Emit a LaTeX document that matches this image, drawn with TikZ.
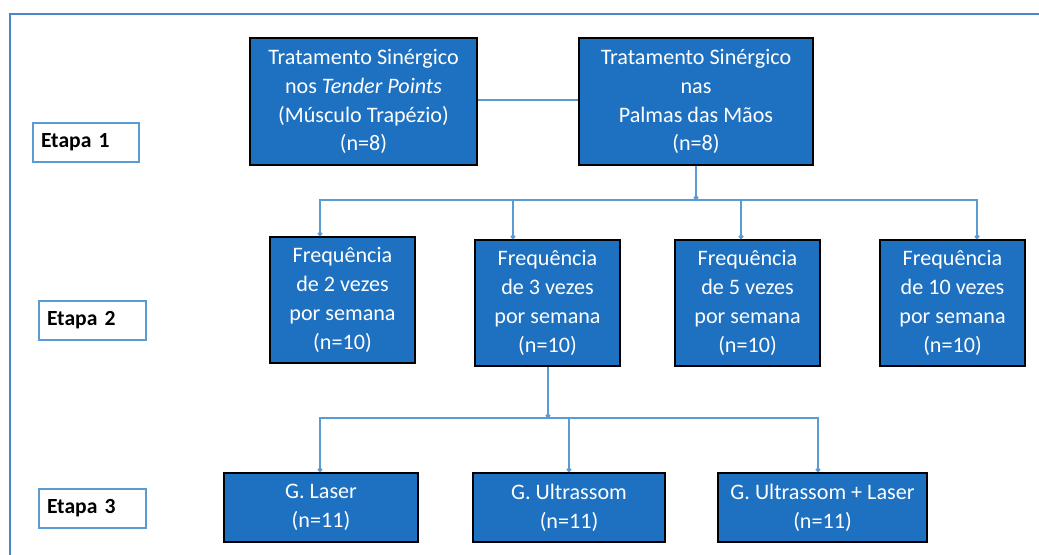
\documentclass[tikz,border=0pt]{standalone}
\usepackage{fontspec}
\setmainfont{Carlito}
\usetikzlibrary{arrows.meta,calc}
\definecolor{boxblue}{RGB}{30,112,192}
\definecolor{connblue}{RGB}{91,155,213}
\definecolor{framblue}{RGB}{74,134,200}
\begin{document}
\begin{tikzpicture}[x=0.75pt,y=-0.75pt,
  box/.style={draw=black, line width=1.5pt, fill=boxblue, text=white, align=center,
    font=\fontsize{16.6}{21.7}\selectfont, inner sep=0pt},
  etapa/.style={draw=connblue, line width=1.5pt, fill=white, text=black, align=left,
    font=\fontsize{16.2}{19}\selectfont\bfseries, inner xsep=6pt, inner ysep=0pt,
    minimum height=29.25pt},
  conn/.style={draw=connblue, line width=1.2pt},
  dot/.style={conn, -{Circle[length=3.5pt]}}]
\useasboundingbox (0,0) rectangle (1039,554);
\fill[white] (0,0) rectangle (1039,554);
% frame
\draw[framblue, line width=1.5pt] (10,560) -- (10,14) -- (1045,14);
% stage labels
\node[etapa, text width=67.5pt] (e1) at (86,142.5) {Etapa 1};
\node[etapa, text width=68.25pt] (e2) at (92.5,320) {Etapa 2};
\node[etapa, text width=68.25pt] (e3) at (92.5,508.5) {Etapa 3};
% stage 1
\node[box, minimum width=170.25pt, minimum height=95.25pt] (tl) at (363.5,101.5)
  {Tratamento Sinérgico\\nos \textit{Tender Points}\\(Músculo Trapézio)\\(n=8)};
\node[box, minimum width=175.5pt, minimum height=95.25pt] (tr) at (696,101.5)
  {Tratamento Sinérgico\\nas\\Palmas das Mãos\\(n=8)};
% stage 2
\node[box, minimum width=108.75pt, minimum height=94.5pt] (f1) at (342.5,300)
  {Frequência\\de 2 vezes\\por semana\\(n=10)};
\node[box, minimum width=108.75pt, minimum height=94.5pt] (f2) at (547.5,303)
  {Frequência\\de 3 vezes\\por semana\\(n=10)};
\node[box, minimum width=108.75pt, minimum height=94.5pt] (f3) at (747.5,303)
  {Frequência\\de 5 vezes\\por semana\\(n=10)};
\node[box, minimum width=108.75pt, minimum height=94.5pt] (f4) at (952.5,303)
  {Frequência\\de 10 vezes\\por semana\\(n=10)};
% stage 3
\node[box, minimum width=145.5pt, minimum height=51.75pt] (r1) at (321,507.5)
  {G. Laser\\(n=11)};
\node[box, minimum width=144pt, minimum height=51.75pt] (r2) at (569,507.5)
  {G. Ultrassom\\(n=11)};
\node[box, minimum width=156.75pt, minimum height=51.75pt] (r3) at (822.5,507.5)
  {G. Ultrassom + Laser\\(n=11)};
% connectors
\draw[conn] (tl.east |- 0,100) -- (tr.west |- 0,100);
\coordinate (b1) at (696,200);
\draw[dot] (tr.south) -- (b1);
\draw[dot] (b1) -| ($(f1.north)+(-22.5,0)$);
\draw[dot] (b1) -| ($(f2.north)+(-34.5,0)$);
\draw[dot] (b1) -| ($(f3.north)+(-6.5,0)$);
\draw[dot] (b1) -| ($(f4.north)+(24.5,0)$);
\coordinate (b2) at (548,418);
\draw[dot] (f2.south -| b2) -- (b2);
\draw[dot] (b2) -| ($(r1.north)+(-1,0)$);
\draw[dot] (b2) -| (r2.north);
\draw[dot] (b2) -| ($(r3.north)+(-4.5,0)$);
\end{tikzpicture}
\end{document}
